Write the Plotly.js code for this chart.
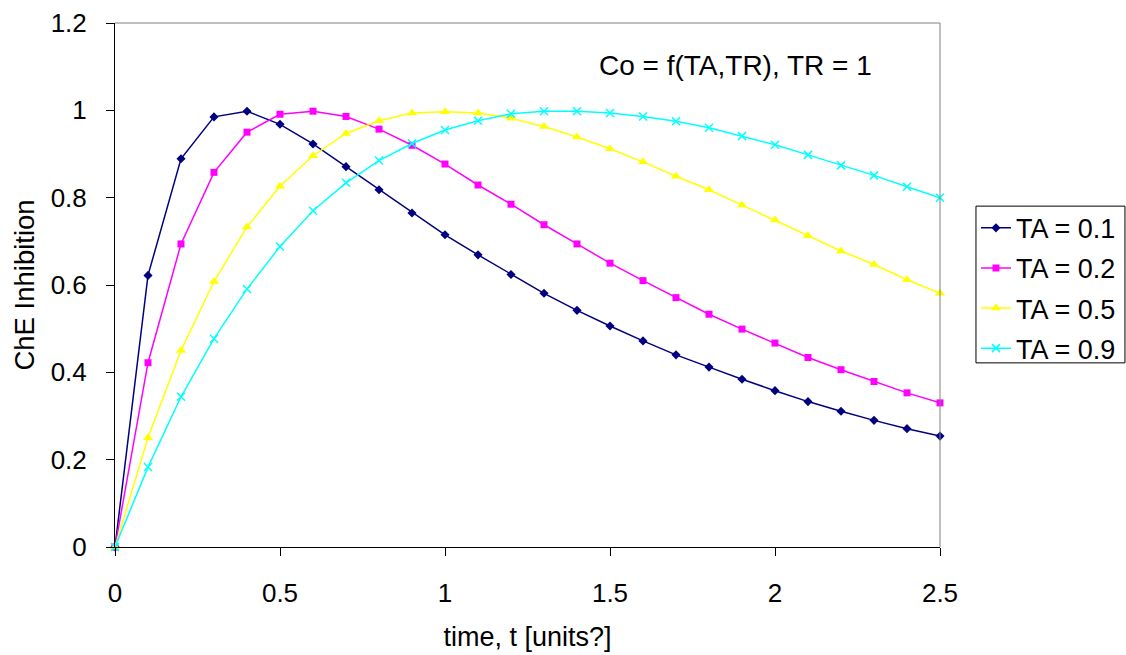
<!DOCTYPE html>
<html>
<head>
<meta charset="utf-8">
<script src="https://cdn.plot.ly/plotly-3.0.1.min.js"></script>
<style>html,body{margin:0;padding:0;background:#fff;}#chart{width:1126px;height:655px;}</style>
</head>
<body>
<div id="chart"></div>
<script>
const time = [0,0.1,0.2,0.3,0.4,0.5,0.6,0.7,0.8,0.9,1.0,1.1,1.2,1.3,1.4,1.5,1.6,1.7,1.8,1.9,2.0,2.1,2.2,2.3,2.4,2.5];
const ta01 = [0,0.622,0.889,0.985,0.998,0.968,0.923,0.871,0.818,0.765,0.715,0.669,0.624,0.581,0.542,0.506,0.472,0.440,0.412,0.384,0.358,0.333,0.311,0.290,0.271,0.254];
const ta02 = [0,0.422,0.694,0.858,0.950,0.991,0.998,0.986,0.957,0.920,0.877,0.829,0.785,0.738,0.694,0.650,0.610,0.571,0.533,0.499,0.467,0.434,0.406,0.379,0.353,0.330];
const ta05 = [0,0.250,0.450,0.608,0.733,0.826,0.896,0.947,0.976,0.994,0.997,0.994,0.982,0.963,0.939,0.912,0.882,0.849,0.818,0.783,0.749,0.713,0.678,0.647,0.612,0.581];
const ta09 = [0,0.183,0.344,0.477,0.591,0.688,0.770,0.834,0.885,0.924,0.955,0.976,0.992,0.998,0.998,0.994,0.986,0.975,0.960,0.941,0.921,0.898,0.874,0.851,0.825,0.800];
const seriesNames = ['TA = 0.1','TA = 0.2','TA = 0.5','TA = 0.9'];
const xTicks = [0,0.5,1,1.5,2,2.5];
const yTicks = [0,0.2,0.4,0.6,0.8,1,1.2];

const FONT = 'Liberation Sans, Arial, sans-serif';
const colors = ['#000080','#FF00FF','#FFFF00','#00FFFF'];
const symbols = ['diamond','square','triangle-up','x-thin'];
const sizes = [7,7,9,8];
const data = [ta01,ta02,ta05,ta09].map((ys,i)=>({
  x: time, y: ys, name: seriesNames[i], type:'scatter', mode:'lines+markers',
  legendgroup: 'g'+i, cliponaxis:false,
  line:{color:colors[i], width:1.5},
  marker: i===3 ? {symbol:symbols[i], size:sizes[i], color:colors[i], line:{color:colors[i], width:1.5}}
                : {symbol:symbols[i], size:sizes[i], color:colors[i], line:{width:0}}
}));

const layout = {
  width:1126, height:655,
  margin:{l:115, r:186, t:22.5, b:107.5, autoexpand:false},
  paper_bgcolor:'#fff', plot_bgcolor:'#fff',
  font:{family:FONT, size:26, color:'#000'},
  showlegend:true,
  legend:{x:1.0436, y:0.655, xanchor:'left', yanchor:'top', borderwidth:0,
          font:{family:FONT, size:27, color:'#000'}, tracegroupgap:2, bgcolor:'rgba(0,0,0,0)'},
  xaxis:{range:[0,2.5], tickvals:xTicks, ticks:'outside', ticklen:8, tickcolor:'#000', tickwidth:1,
         showline:true, linecolor:'#000', linewidth:1, showgrid:false, zeroline:false, automargin:false,
         ticklabelstandoff:15, tickfont:{family:FONT,size:26,color:'#000'},
         title:{text:'time, t [units?]', font:{family:FONT,size:27,color:'#000'}, standoff:19}},
  yaxis:{range:[0,1.2], tickvals:yTicks, ticks:'outside', ticklen:8, tickcolor:'#000', tickwidth:1,
         showline:true, linecolor:'#000', linewidth:1, showgrid:false, zeroline:false, automargin:false,
         ticklabelstandoff:14, tickfont:{family:FONT,size:26,color:'#000'},
         title:{text:'ChE Inhibition', font:{family:FONT,size:27.5,color:'#000'}, standoff:8}},
  shapes:[
    {type:'line', xref:'paper', yref:'paper', x0:0, x1:1, y0:1, y1:1, line:{color:'#808080', width:1}},
    {type:'line', xref:'paper', yref:'paper', x0:1, x1:1, y0:0, y1:1, line:{color:'#808080', width:1}},
    {type:'rect', xref:'paper', yref:'paper', x0:1.0436, x1:1.2242, y0:0.3514, y1:0.6505, line:{color:'#000', width:1}, fillcolor:'rgba(0,0,0,0)'}
  ],
  annotations:[
    {xref:'paper', yref:'paper', x:0.7527, y:0.919, xanchor:'center', yanchor:'middle', showarrow:false,
     text:'Co = f(TA,TR), TR = 1', font:{family:FONT,size:28,color:'#000'}}
  ]
};
Plotly.newPlot('chart', data, layout, {displayModeBar:false, staticPlot:true});
</script>
</body>
</html>
